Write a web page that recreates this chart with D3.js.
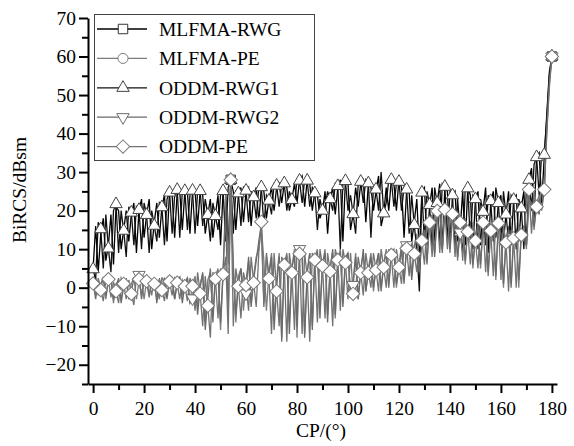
<!DOCTYPE html>
<html><head><meta charset="utf-8">
<script src="https://cdn.jsdelivr.net/npm/d3@7"></script>
<style>body{margin:0;background:#fff}svg text{font-family:"Liberation Serif","Times New Roman",serif;fill:#000}</style>
</head><body><svg id="c" width="574" height="446"></svg>
<script>
// CP angle sampling (degrees): one value per degree, 0..180
const cpStart = 0, cpStep = 1;
const seriesNames = ["MLFMA-RWG","MLFMA-PE","ODDM-RWG1","ODDM-RWG2","ODDM-PE"];
const xTickLabels = [0,20,40,60,80,100,120,140,160,180];
const yTickLabels = [-20,-10,0,10,20,30,40,50,60,70];

const mlfmaRWG = [
 5,16,4,14,18,7,11,19,6,21,
 20,10,15,20,12,19,22,9,20,23,
 13,19,23,10,17,22,13,21,24,12,
 25,24,13,25,25,15,25,25,14,25,
 25,16,25,24,14,19,23,13,19,24,
 11,25,25,10,28,25,15,24,26,17,
 25,26,16,24,26,17,26,25,18,23,
 26,20,26,27,22,27,26,20,23,27,
 22,28,29,21,28,27,20,25,24,18,
 20,25,14,23,26,19,26,28,12,28,
 27,15,19,26,21,27,28,17,27,26,
 20,25,29,16,19,26,20,28,27,20,
 28,26,13,25,25,12,17,23,9,25,
 26,11,21,26,12,22,27,10,26,25,
 11,24,25,12,15,25,11,26,24,10,
 23,25,11,20,26,9,22,25,13,22,
 24,12,19,25,11,23,24,12,21,25,
 11,28,31,18,34,35,22,34,45,56,60];
const mlfmaPE = [
 1,2.5,-2,1,2.8,-3,2,2,-4,1,
 2,-3,0,2.5,-2,1,2.7,-3,1.5,2.5,
 -3,2,1.5,-2,2.5,0,-3,2.7,1,-2,
 2,2.6,-3,1,2.6,-2,1,2.5,-4,1,
 3,-5,1,3.5,-9,2,4,-7,3,5,
 -11,4,24,6,28,4,-9,3,5,-6,
 2,7,-4,3,8,10,16,7,-6,4,
 9,-8,2,9,-13,6,9,-9,5,10,
 -13,9,10,-12,4,9,-10,8,10,-5,
 6,10,-7,5,9,-8,7,10,-4,8,
 9,-2,1,9,-3,5,9,-1,5,9,
 -1,6,9,0,6,10,1,9,10,0,
 6,11,2,10,12,3,11,14,5,13,
 16,7,17,19,9,20,20,10,21,19,
 9,20,18,7,17,18,6,16,17,5,
 14,17,5,17,16,3,15,17,2,17,
 15,0,13,16,1,14,15,0,15,16,
 10,24,23,15,22,24,20,26,42,54,60];
const oddmRWG1 = [
 4.8,2,17,15.2,5,19,10.2,4,20,21.7,
 9,20,14.8,8,21,19.5,11,21,20.2,10,
 22,18.9,9,20,16.1,12,22,20.9,11,23,
 24.7,14,24,25.4,13,25,25.1,15,24,25.2,
 14,25,25.1,16,23,18.9,12,22,18.6,15,
 24,25.1,12,26,28,14,25,24.5,16,26,
 25.2,17,25,23.5,18,26,26.1,16,24,22.6,
 19,27,26.5,21,27,27.1,20,25,22.8,21,
 28,27.8,22,28,27.8,21,26,24.5,15,23,
 20,21,25,23,20,27,26.4,10,27,27.7,
 20,24,19.1,14,27,27.5,22,28,27.1,13,
 26,25.5,20,30,19.3,22,28,28,21,27,
 27.5,20,26,25.5,14,24,16.3,10,-1,24.7,
 12,25,21.5,10,26,22,11,27,26.2,12,
 25,24,10,23,14.4,9,26,25.8,12,24,
 23,10,23,19.7,11,24,22.5,12,26,22,
 11,25,19,12,24,22.8,10,23,20.6,10,
 26,28,20,32,33.9,24,35,34.5,44,55,60];
const oddmRWG2 = [
 1.5,-3,2,0,2.5,-2,1.8,2.6,-3,-0.5,
 2.5,-4,0.8,2,-3,-1,2.4,3,3.3,-3,
 2,2.3,-2,1.5,2.4,-4,2,0,2.6,-3,
 1.8,2.2,-3,1.5,2.7,-4,0.8,2.6,-4,-2.8,
 2,-7,0,4,-11,-3,5,-9,3,4,
 -9,4,20,-8,28,6,-7,1,5,-1.5,
 -1.5,8,-5,2,7,12,16.5,-5,9,3,
 8,-11,0,8,-14,7,8,-12,5,9,
 -10,10,8,-13,4,9,-11,8,9,-8,
 6,9,-9,5,10,-7,8,9,-5,7,
 9,-2,0.7,8,-3,4,10,-1,4,8,
 0,5,9,-1,6,9,0,9,9,1,
 5,10,1,11,11,2,10,13,4,12,
 15,6,18,17,8,19,20,9,20,20,
 10,19,19,8,14.3,17,7,15,16,6,
 13,16,6,16,15,4,16,16,3,16,
 14,1,12,15,0,13,14,2,14,15,
 11,23,22,16,21,23,21,25,41,53,60];
const oddmPE = [
 1.1,-2,2.5,-0.6,-3.5,2,2.2,-2.5,1.5,-0.9,
 -4,2.5,1,-3,2,-1.6,-4.5,3,2.2,-2,
 2.8,1.7,-2.5,2,1,-3,2.5,-0.6,-3.5,2.3,
 1.6,-2,2.5,1.3,-3,2,0.4,-3.5,2.5,0.4,
 -6,4,-1.5,-10,3,-4.7,-13,4,2.3,-8,
 5,3.5,8,-12,28,-10,5,0.4,-8,4,
 0.7,-6,8,1.3,-5,9,17.1,-4,8,2.4,
 -12,9,-0.9,-10,8,5.9,-14,9,3.9,-11,
 10,8.8,-12,9,2.7,-14,9,7.2,-9,10,
 5.6,-8,9,4.2,-10,10,7.2,-6,10,6.5,
 -3,9,-1.6,-1,8,3.9,-2,9,3.9,0,
 9,4.6,-1,10,5.3,0,10,8.5,0,10,
 5.3,1,11,10.2,3,12,8.8,4,14,12.2,
 6,17,16.9,8,20,19.9,9,21,20.2,10,
 20,19.1,8,19,16.9,7,18,14.5,6,17,
 12.2,5,18,16.9,4,17,14.8,3,18,16.7,
 2,16,11.7,-1,15,12.8,0,16,13.7,12,
 22,25.5,14,24,21,19,26,25.5,40,52,60];

// sample indices that carry a marker symbol
const markMLFMA = [54,180];
const markRWG1 = d3.range(0,181,3);
const markRWG2 = [18,39,60,81,102,123,144,165,180];
const markPE = d3.range(0,181,3);

const svg = d3.select("#c");
const x = d3.scaleLinear().domain([-2,182]).range([88,557]);
const y = d3.scaleLinear().domain([-25,70]).range([384,18]);

const series = [
 {name:seriesNames[0], v:mlfmaRWG, line:"#000", mk:"#333", sym:"square", marks:markMLFMA},
 {name:seriesNames[1], v:mlfmaPE, line:"#7c7c7c", mk:"#7c7c7c", sym:"circle", marks:markMLFMA},
 {name:seriesNames[2], v:oddmRWG1, line:"#111", mk:"#444", sym:"tri", marks:markRWG1},
 {name:seriesNames[3], v:oddmRWG2, line:"#6a6a6a", mk:"#6e6e6e", sym:"tridown", marks:markRWG2},
 {name:seriesNames[4], v:oddmPE, line:"#737373", mk:"#7a7a7a", sym:"diamond", marks:markPE}
];
const symPath = {
 square: d3.symbol(d3.symbolSquare, 90)(),
 circle: d3.symbol(d3.symbolCircle, 80)(),
 tri: d3.symbol(d3.symbolTriangle, 66)(),
 tridown: d3.symbol(d3.symbolTriangle, 66)(),
 diamond: d3.symbol(d3.symbolSquare, 90)()
};
const symRot = {square:0,circle:0,tri:0,tridown:180,diamond:45};

const line = d3.line().x((d,i)=>x(cpStart+i*cpStep)).y(d=>y(d));
const gl = svg.append("g");
series.forEach(s=>{
  gl.append("path").attr("d",line(s.v)).attr("fill","none")
    .attr("stroke",s.line).attr("stroke-width",1.3);
});
const gm = svg.append("g");
series.forEach(s=>{
  gm.selectAll(null).data(s.marks).join("path")
    .attr("d",symPath[s.sym])
    .attr("transform",i=>`translate(${x(cpStart+i*cpStep)},${y(s.v[i])}) rotate(${symRot[s.sym]})`)
    .attr("fill","#fff").attr("stroke",s.mk).attr("stroke-width",1);
});

// axes
const yMinor = [-25,-15,-5,5,15,25,35,45,55,65];
const xMinor = [10,30,50,70,90,110,130,150,170];
svg.append("g").attr("transform","translate(88,0)")
  .call(d3.axisLeft(y).tickValues(yTickLabels).tickSize(9).tickSizeOuter(0).tickPadding(3));
svg.append("g").attr("transform","translate(88,0)")
  .call(d3.axisLeft(y).tickValues(yMinor).tickSize(6).tickSizeOuter(0).tickFormat(""))
  .select(".domain").remove();
svg.append("g").attr("transform","translate(0,384)")
  .call(d3.axisBottom(x).tickValues(xTickLabels).tickSize(9).tickSizeOuter(0).tickPadding(8));
svg.append("g").attr("transform","translate(0,384)")
  .call(d3.axisBottom(x).tickValues(xMinor).tickSize(6).tickSizeOuter(0).tickFormat(""))
  .select(".domain").remove();
svg.selectAll(".domain").attr("stroke","#000").attr("stroke-width",2);
svg.selectAll(".tick line").attr("stroke","#000").attr("stroke-width",2);
svg.selectAll(".tick text").style("font-size","19.5px").style("font-family",'"Liberation Serif","Times New Roman",serif');

svg.append("text").attr("x",321).attr("y",437).attr("text-anchor","middle")
  .style("font-size","19.5px").text("CP/(°)");
svg.append("text").attr("transform","translate(26,190) rotate(-90)").attr("text-anchor","middle")
  .style("font-size","19.5px").text("BiRCS/dBsm");

// legend
const lg = svg.append("g");
lg.append("rect").attr("x",94.5).attr("y",14.5).attr("width",220).attr("height",146)
  .attr("fill","#fff").attr("stroke","#444").attr("stroke-width",1);
series.forEach((s,k)=>{
  const yy = 29 + k*29.4;
  lg.append("line").attr("x1",97).attr("x2",147).attr("y1",yy).attr("y2",yy)
    .attr("stroke",s.line).attr("stroke-width",1.3);
  lg.append("path").attr("d",symPath[s.sym])
    .attr("transform",`translate(123,${yy}) rotate(${symRot[s.sym]})`)
    .attr("fill","#fff").attr("stroke",s.mk).attr("stroke-width",1);
  lg.append("text").attr("x",159).attr("y",yy).attr("dy","0.35em")
    .style("font-size","19.5px").text(s.name);
});
</script></body></html>
